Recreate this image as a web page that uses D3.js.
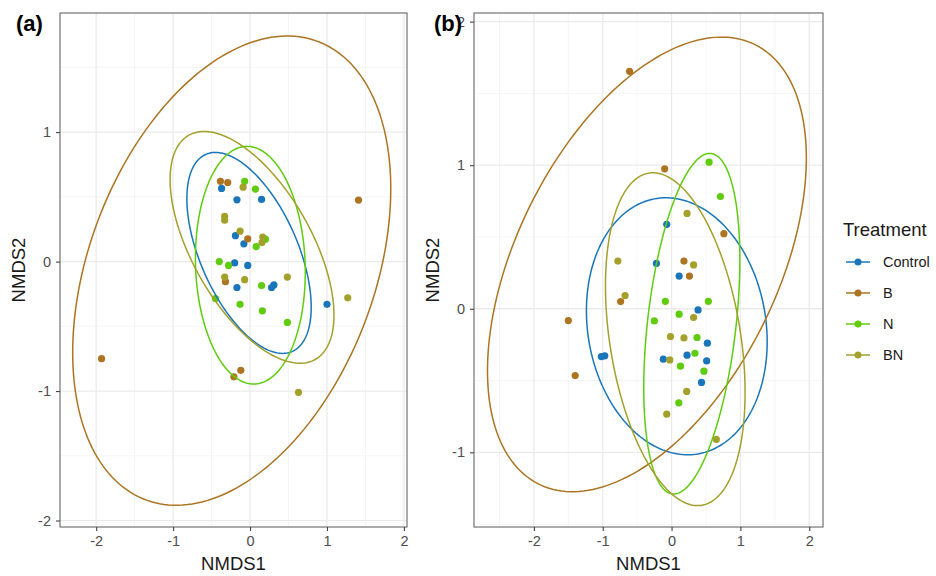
<!DOCTYPE html>
<html>
<head>
<meta charset="utf-8">
<script src="https://cdn.jsdelivr.net/npm/d3@7"></script>
<style>
  body { margin: 0; background: #fff; }
  text { font-family: "Liberation Sans", Arial, sans-serif; }
</style>
</head>
<body>
<div id="chart-container"></div>
<script>
// treatments and their colours
const groups = ['Control', 'B', 'N', 'BN'];
const colors = ['#1a76bb', '#ad7422', '#5fcd0e', '#a4a02c'];

const xTicks = [-2, -1, 0, 1, 2];
const yTicksA = [-2, -1, 0, 1];
const yTicksB = [-1, 0, 1, 2];

// panel (a) points [NMDS1, NMDS2]
const aControl = [[-0.37,0.565],[-0.17,0.477],[0.15,0.48],[-0.19,0.2],[-0.08,0.137],[-0.2,-0.01],
  [-0.03,-0.03],[-0.17,-0.2],[0.28,-0.2],[0.31,-0.18],[1.0,-0.33]];
const aB = [[-0.385,0.62],[-0.29,0.61],[-0.03,0.175],[1.41,0.475],[-0.32,-0.155],[-1.93,-0.75],
  [-0.12,-0.84],[-0.21,-0.89]];
const aN = [[-0.07,0.62],[0.07,0.56],[0.2,0.173],[0.08,0.116],[-0.4,0.0],[-0.28,-0.03],[0.15,-0.185],
  [-0.45,-0.285],[-0.13,-0.33],[0.16,-0.38],[0.485,-0.47]];
const aBN = [[-0.09,0.575],[-0.33,0.35],[-0.33,0.32],[-0.13,0.235],[0.165,0.19],[0.155,0.147],
  [-0.33,-0.12],[-0.07,-0.14],[0.485,-0.12],[1.27,-0.28],[0.63,-1.01]];

// panel (b) points
const bControl = [[-0.07,0.588],[-0.22,0.316],[0.11,0.228],[0.385,-0.008],[0.52,-0.24],[-1.02,-0.333],
  [-0.97,-0.328],[-0.12,-0.351],[0.225,-0.323],[0.51,-0.363],[0.435,-0.513]];
const bB = [[-0.61,1.654],[-0.1,0.975],[0.76,0.523],[0.18,0.332],[0.26,0.228],[-0.74,0.05],
  [-1.5,-0.082],[-1.4,-0.465]];
const bN = [[0.545,1.021],[0.71,0.782],[-0.09,0.052],[0.535,0.052],[0.11,-0.038],[-0.25,-0.085],
  [0.37,-0.2],[0.34,-0.31],[0.13,-0.4],[0.47,-0.435],[0.105,-0.655]];
const bBN = [[0.225,0.664],[-0.78,0.332],[0.32,0.305],[-0.675,0.092],[0.32,-0.061],[-0.016,-0.193],
  [0.18,-0.203],[-0.026,-0.356],[0.22,-0.576],[-0.07,-0.734],[0.65,-0.91]];

// 95% ellipses: centre, half width, half height, correlation
const aEllipses = [[-0.013,0.067,0.808,0.776,-0.54],[-0.238,-0.07,2.067,1.812,0.349],
  [0.004,-0.028,0.714,0.918,-0.06],[0.026,0.11,1.065,0.895,-0.585]];
const bEllipses = [[0.076,-0.122,1.313,0.895,-0.12],[-0.358,0.309,2.316,1.583,0.468],
  [0.294,-0.104,0.698,1.186,0.375],[0.054,-0.212,1.014,1.159,-0.32]];

document.addEventListener('DOMContentLoaded', function() {
  const svg = d3.select('#chart-container').append('svg')
      .attr('width', 936).attr('height', 576);

  drawPanel(svg, {
    label: '(a)', labelX: 16, left: 60, right: 407, top: 13, bottom: 527,
    xDomain: [-2.47, 2.04], yDomain: [-2.05, 1.92], yTicks: yTicksA, yTitleX: 25,
    points: [aControl, aB, aN, aBN], ellipses: aEllipses
  });
  drawPanel(svg, {
    label: '(b)', labelX: 434, left: 474, right: 823, top: 13, bottom: 527,
    xDomain: [-2.87, 2.2], yDomain: [-1.52, 2.06], yTicks: yTicksB, yTitleX: 439,
    points: [bControl, bB, bN, bBN], ellipses: bEllipses
  });

  // legend
  const legend = svg.append('g').attr('transform', 'translate(843,0)');
  legend.append('text')
      .attr('x', 0).attr('y', 236)
      .attr('font-size', 18.5).attr('fill', '#1a1a1a')
      .text('Treatment');
  groups.forEach(function(g, i) {
    const yy = 262 + i * 31;
    legend.append('line')
        .attr('x1', 3).attr('x2', 27).attr('y1', yy).attr('y2', yy)
        .attr('stroke', colors[i]).attr('stroke-width', 1.5);
    legend.append('circle')
        .attr('cx', 15).attr('cy', yy).attr('r', 3.5).attr('fill', colors[i]);
    legend.append('text')
        .attr('x', 40).attr('y', yy + 5)
        .attr('font-size', 14.5).attr('fill', '#1a1a1a')
        .text(g);
  });
});

function drawPanel(svg, p) {
  const x = d3.scaleLinear().domain(p.xDomain).range([p.left, p.right]);
  const y = d3.scaleLinear().domain(p.yDomain).range([p.bottom, p.top]);
  const g = svg.append('g');

  // minor then major grid
  const xMinor = d3.range(Math.ceil(p.xDomain[0] * 2) / 2, p.xDomain[1], 0.5).filter(v => v % 1 !== 0);
  const yMinor = d3.range(Math.ceil(p.yDomain[0] * 2) / 2, p.yDomain[1], 0.5).filter(v => v % 1 !== 0);
  g.selectAll('.xminor').data(xMinor).enter().append('line')
      .attr('x1', d => x(d)).attr('x2', d => x(d)).attr('y1', p.top).attr('y2', p.bottom)
      .attr('stroke', '#f3f3f3').attr('stroke-width', 0.8);
  g.selectAll('.yminor').data(yMinor).enter().append('line')
      .attr('y1', d => y(d)).attr('y2', d => y(d)).attr('x1', p.left).attr('x2', p.right)
      .attr('stroke', '#f3f3f3').attr('stroke-width', 0.8);
  g.selectAll('.xmajor').data(xTicks).enter().append('line')
      .attr('x1', d => x(d)).attr('x2', d => x(d)).attr('y1', p.top).attr('y2', p.bottom)
      .attr('stroke', '#ebebeb').attr('stroke-width', 1.3);
  g.selectAll('.ymajor').data(p.yTicks).enter().append('line')
      .attr('y1', d => y(d)).attr('y2', d => y(d)).attr('x1', p.left).attr('x2', p.right)
      .attr('stroke', '#ebebeb').attr('stroke-width', 1.3);

  // points
  p.points.forEach(function(pts, i) {
    g.selectAll('.pt' + i).data(pts).enter().append('circle')
        .attr('cx', d => x(d[0])).attr('cy', d => y(d[1]))
        .attr('r', 3.6).attr('fill', colors[i]);
  });

  // ellipses
  const line = d3.line().x(d => x(d[0])).y(d => y(d[1]));
  p.ellipses.forEach(function(e, i) {
    const s = Math.sqrt(1 - e[4] * e[4]);
    const pts = d3.range(0, 201).map(function(k) {
      const t = k / 200 * 2 * Math.PI;
      return [e[0] + e[2] * Math.cos(t), e[1] + e[3] * (e[4] * Math.cos(t) + s * Math.sin(t))];
    });
    g.append('path').datum(pts)
        .attr('d', line).attr('fill', 'none')
        .attr('stroke', colors[i]).attr('stroke-width', 1.5);
  });

  // border
  g.append('rect')
      .attr('x', p.left).attr('y', p.top)
      .attr('width', p.right - p.left).attr('height', p.bottom - p.top)
      .attr('fill', 'none').attr('stroke', '#666').attr('stroke-width', 1.1);

  // axes
  const xAxis = g.append('g')
      .attr('transform', 'translate(0,' + p.bottom + ')')
      .call(d3.axisBottom(x).tickValues(xTicks).tickSize(4).tickPadding(5).tickFormat(d => String(d)));
  const yAxis = g.append('g')
      .attr('transform', 'translate(' + p.left + ',0)')
      .call(d3.axisLeft(y).tickValues(p.yTicks).tickSize(4).tickPadding(5).tickFormat(d => String(d)));
  [xAxis, yAxis].forEach(function(ax) {
    ax.select('.domain').remove();
    ax.selectAll('line').attr('stroke', '#444').attr('stroke-width', 1.1);
    ax.selectAll('text').attr('fill', '#4d4d4d').attr('font-size', 14.5)
        .attr('font-family', '"Liberation Sans", Arial, sans-serif');
  });

  // titles
  g.append('text')
      .attr('x', (p.left + p.right) / 2).attr('y', 570)
      .attr('text-anchor', 'middle').attr('font-size', 18.5).attr('fill', '#1a1a1a')
      .text('NMDS1');
  g.append('text')
      .attr('transform', 'translate(' + p.yTitleX + ',' + (p.top + p.bottom) / 2 + ') rotate(-90)')
      .attr('text-anchor', 'middle').attr('font-size', 18.5).attr('fill', '#1a1a1a')
      .text('NMDS2');

  // panel tag
  g.append('text')
      .attr('x', p.labelX).attr('y', 31)
      .attr('font-size', 22).attr('font-weight', 'bold').attr('fill', '#000')
      .text(p.label);
}
</script>
</body>
</html>
